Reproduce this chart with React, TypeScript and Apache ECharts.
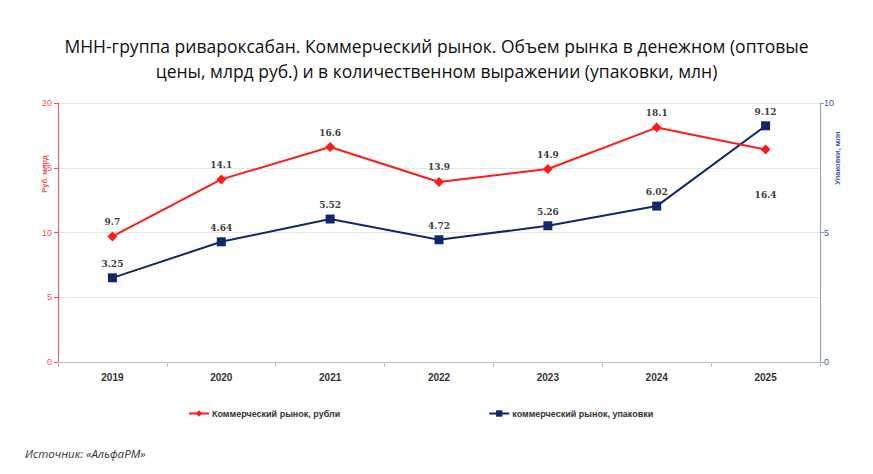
import React, { useEffect, useRef } from "react";
import * as echarts from "echarts";

const years = ["2019", "2020", "2021", "2022", "2023", "2024", "2025"];
const rubles = [9.7, 14.1, 16.6, 13.9, 14.9, 18.1, 16.4];
const packs = [3.25, 4.64, 5.52, 4.72, 5.26, 6.02, 9.12];
const seriesNames = ["Коммерческий рынок, рубли", "коммерческий рынок, упаковки"];
const titleText = "МНН-группа ривароксабан. Коммерческий рынок. Объем рынка в денежном (оптовые\nцены, млрд руб.) и в количественном выражении (упаковки, млн)";
const sourceText = "Источник: «АльфаРМ»";
const leftAxisName = "Руб. млрд";
const rightAxisName = "Упаковки, млн";

export default function App() {
  const ref = useRef<HTMLDivElement>(null);
  useEffect(() => {
    const chart = echarts.init(ref.current!, null, { renderer: "svg" });
    const labelStyle = {
      show: true,
      position: "top" as const,
      distance: 5,
      fontFamily: "DejaVu Serif",
      fontSize: 9,
      fontWeight: "bold" as const,
      color: "#404040",
    };
    chart.setOption({
      animation: false,
      backgroundColor: "#ffffff",
      title: {
        text: titleText,
        left: "center",
        top: 28,
        textStyle: {
          fontFamily: "Open Sans",
          fontSize: 17.5,
          fontWeight: "normal",
          color: "#111",
          lineHeight: 25,
        },
      },
      grid: { left: 58, right: 53, top: 103, bottom: 112 },
      legend: {
        bottom: 51,
        left: 183,
        itemGap: 148,
        itemWidth: 20,
        itemHeight: 8,
        textStyle: { fontFamily: "Liberation Sans", fontSize: 9, fontWeight: "bold", color: "#333", padding: [0, 0, 0, -2] },
        data: seriesNames,
      },
      xAxis: {
        type: "category",
        data: years,
        axisLine: { lineStyle: { color: "#bfbfbf" } },
        axisTick: { show: true, alignWithLabel: false, lineStyle: { color: "#bfbfbf" } },
        axisLabel: { fontFamily: "Liberation Sans", fontSize: 10, fontWeight: "bold", color: "#333", margin: 10 },
      },
      yAxis: [
        {
          type: "value",
          min: 0,
          max: 20,
          interval: 5,
          position: "left",
          axisLine: { show: true, lineStyle: { color: "#ff4d4d" } },
          axisTick: { show: true, length: 4, lineStyle: { color: "#ff4d4d" } },
          axisLabel: { color: "#ff4d4d", fontFamily: "Liberation Sans", fontSize: 9, margin: 6 },
          splitLine: { lineStyle: { color: "#e6e6e6" } },
        },
        {
          type: "value",
          min: 0,
          max: 10,
          interval: 5,
          position: "right",
          axisLine: { show: true, lineStyle: { color: "#8a9cc4" } },
          axisTick: { show: true, length: 4, lineStyle: { color: "#8a9cc4" } },
          axisLabel: { color: "#3d5a99", fontFamily: "Liberation Sans", fontSize: 9, margin: 4 },
          splitLine: { show: false },
        },
      ],
      series: [
        {
          name: seriesNames[0],
          type: "line",
          yAxisIndex: 0,
          data: rubles.map((v, i) =>
            i === rubles.length - 1
              ? { value: v, label: { position: "bottom", distance: 36 } }
              : v
          ),
          symbol: "diamond",
          symbolSize: 10,
          color: "#ff1a1a",
          lineStyle: { width: 2, color: "#ff1a1a" },
          itemStyle: { color: "#ff1a1a" },
          label: labelStyle,
          z: 3,
        },
        {
          name: seriesNames[1],
          type: "line",
          yAxisIndex: 1,
          data: packs,
          symbol: "rect",
          symbolSize: 9,
          color: "#10296b",
          lineStyle: { width: 2, color: "#10296b" },
          itemStyle: { color: "#10296b" },
          label: labelStyle,
          z: 2,
        },
      ],
      graphic: [
        {
          type: "text",
          x: 44,
          y: 174,
          rotation: Math.PI / 2,
          style: {
            text: leftAxisName,
            fill: "#ff4d4d",
            fontFamily: "Liberation Sans",
            fontSize: 7.5,
            fontWeight: "bold",
            align: "center",
            verticalAlign: "middle",
          },
        },
        {
          type: "text",
          x: 837,
          y: 158,
          rotation: Math.PI / 2,
          style: {
            text: rightAxisName,
            fill: "#3d5a99",
            fontFamily: "Liberation Sans",
            fontSize: 7.5,
            fontWeight: "bold",
            align: "center",
            verticalAlign: "middle",
          },
        },
        {
          type: "text",
          x: 25,
          y: 453,
          style: {
            text: sourceText,
            fill: "#333",
            fontFamily: "Open Sans",
            fontSize: 11.5,
            fontStyle: "italic",
            verticalAlign: "middle",
          },
        },
      ],
    });
    return () => chart.dispose();
  }, []);
  return (
    <div
      ref={ref}
      style={{ position: "absolute", left: 0, top: 0, width: 873, height: 474 }}
    />
  );
}
